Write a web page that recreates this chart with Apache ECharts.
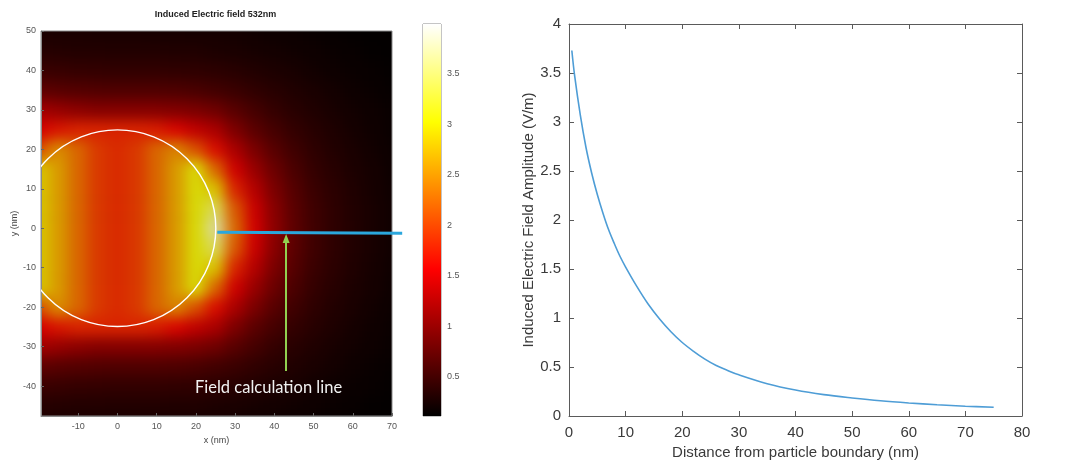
<!DOCTYPE html>
<html>
<head>
<meta charset="utf-8">
<script src="https://cdn.jsdelivr.net/npm/echarts@6/dist/echarts.min.js"></script>
<style>
html,body{margin:0;padding:0;background:#ffffff;}
#wrap{position:relative;width:1078px;height:467px;overflow:hidden;}
#heatClip{position:absolute;left:41px;top:31px;width:351px;height:385px;overflow:hidden;background:#000;}
#heat{position:absolute;left:-30px;top:-30px;width:411px;height:445px;filter:blur(7px) brightness(0.85);}
#main{position:absolute;left:0;top:0;width:1078px;height:467px;}
</style>
</head>
<body>
<div id="wrap">
  <div id="heatClip"><div id="heat"></div></div>
  <div id="main"></div>
</div>
<script>
// ---------------- data ----------------
const X_RANGE = [-19.5, 70];
const Y_RANGE = [-47.6, 50];
const HEAT_X_TICKS = [-10, 0, 10, 20, 30, 40, 50, 60, 70];
const HEAT_Y_TICKS = [-40, -30, -20, -10, 0, 10, 20, 30, 40, 50];

// field map sampled every 5 nm (columns x = -20..70, rows y = 0..50; map is symmetric in y)
const HEAT_X = [-20, -15, -10, -5, 0, 5, 10, 15, 20, 25, 30, 35, 40, 45, 50, 55, 60, 65, 70];
const HEAT_Y_UPPER = [0, 5, 10, 15, 20, 25, 30, 35, 40, 45, 50];
const HEAT_ROWS = [
  [2.9, 2.6, 2.25, 1.95, 1.85, 1.95, 2.25, 2.6, 3.05, 3.7, 2.27, 1.52, 1.06, 0.74, 0.54, 0.42, 0.34, 0.27, 0.22],
  [2.9, 2.6, 2.25, 1.95, 1.85, 1.95, 2.25, 2.6, 3.05, 3.4, 2.15, 1.47, 1.03, 0.72, 0.53, 0.42, 0.335, 0.27, 0.22],
  [2.9, 2.6, 2.25, 1.95, 1.85, 1.95, 2.25, 2.6, 3.05, 2.85, 1.8, 1.32, 0.94, 0.68, 0.5, 0.4, 0.32, 0.26, 0.21],
  [2.9, 2.6, 2.25, 1.95, 1.85, 1.95, 2.25, 2.6, 3.05, 2.25, 1.5, 1.13, 0.83, 0.61, 0.46, 0.37, 0.3, 0.25, 0.2],
  [2.1, 2.5, 2.25, 1.95, 1.85, 1.95, 2.25, 2.45, 2.1, 1.65, 1.25, 0.93, 0.7, 0.53, 0.42, 0.34, 0.28, 0.23, 0.19],
  [1.55, 1.7, 1.8, 1.8, 1.8, 1.8, 1.75, 1.6, 1.4, 1.25, 0.95, 0.72, 0.57, 0.45, 0.37, 0.31, 0.25, 0.21, 0.18],
  [1.2, 1.12, 1.05, 1.0, 1.0, 1.0, 1.0, 0.98, 0.93, 0.85, 0.7, 0.57, 0.46, 0.38, 0.32, 0.27, 0.23, 0.2, 0.17],
  [0.75, 0.7, 0.67, 0.65, 0.64, 0.64, 0.64, 0.63, 0.6, 0.55, 0.5, 0.43, 0.37, 0.32, 0.28, 0.24, 0.2, 0.18, 0.15],
  [0.5, 0.48, 0.46, 0.45, 0.44, 0.44, 0.44, 0.43, 0.42, 0.4, 0.37, 0.33, 0.3, 0.27, 0.23, 0.2, 0.18, 0.16, 0.14],
  [0.36, 0.35, 0.34, 0.34, 0.33, 0.33, 0.33, 0.32, 0.32, 0.3, 0.28, 0.26, 0.24, 0.22, 0.2, 0.18, 0.16, 0.14, 0.13],
  [0.29, 0.28, 0.28, 0.27, 0.27, 0.27, 0.26, 0.26, 0.25, 0.25, 0.24, 0.22, 0.2, 0.19, 0.17, 0.15, 0.14, 0.13, 0.12]
];

const CB_RANGE = [0.11, 3.99];
const CB_TICKS = [0.5, 1, 1.5, 2, 2.5, 3, 3.5];
const HOT = ['#000000', '#550000', '#aa0000', '#ff0000', '#ff5500', '#ffaa00', '#ffff00', '#ffff80', '#ffffff'];

const PARTICLE = [[0, 0, 25]];            // centre x, centre y, radius (nm)
const CALC_LINE_X = [25.45, 72.6];
const CALC_LINE_Y = [-1.0, -1.3];
const ARROW_X = [43, 43];
const ARROW_Y = [-36.2, -2.6];

const DIST = [0.5, 1, 2, 3, 4, 5, 6, 7, 8, 9, 10, 12, 14, 16, 18, 20, 22, 24, 26, 28, 30, 35, 40, 45, 50, 55, 60, 65, 70, 75];
const AMP = [3.73, 3.47, 3.07, 2.74, 2.48, 2.26, 2.07, 1.90, 1.76, 1.63, 1.52, 1.32, 1.14, 0.99, 0.86, 0.75, 0.66, 0.58, 0.515, 0.465, 0.42, 0.33, 0.265, 0.218, 0.184, 0.155, 0.133, 0.115, 0.10, 0.089];

// ---------------- layout ----------------
const PLOT = {left: 41, top: 31, width: 351, height: 385};
const CB = {left: 423, top: 24, width: 18, height: 392};
const LINEPLOT = {left: 569, top: 24, width: 453, height: 392};
const FONT = '"Liberation Sans", Arial, Helvetica, sans-serif';

// ---------------- heat map layer ----------------
const M = 30;
const kx = PLOT.width / (X_RANGE[1] - X_RANGE[0]);
const ky = PLOT.height / (Y_RANGE[1] - Y_RANGE[0]);
const yFull = HEAT_Y_UPPER.slice(1).reverse().map(v => -v).concat(HEAT_Y_UPPER);
const step = HEAT_X[1] - HEAT_X[0];
const hx0 = HEAT_X[0] - step / 2, hx1 = HEAT_X[HEAT_X.length - 1] + step / 2;
const hy0 = yFull[0] - step / 2, hy1 = yFull[yFull.length - 1] + step / 2;
const heatData = [];
yFull.forEach((yv, yi) => {
  const row = HEAT_ROWS[HEAT_Y_UPPER.indexOf(Math.abs(yv))];
  HEAT_X.forEach((xv, xi) => heatData.push([xi, yi, row[xi]]));
});
const heat = echarts.init(document.getElementById('heat'), null, {renderer: 'canvas'});
heat.setOption({
  animation: false,
  grid: {
    left: M + (hx0 - X_RANGE[0]) * kx,
    top: M + (Y_RANGE[1] - hy1) * ky,
    width: (hx1 - hx0) * kx,
    height: (hy1 - hy0) * ky
  },
  xAxis: {type: 'category', data: HEAT_X.map(String), show: false},
  yAxis: {type: 'category', data: yFull.map(String), show: false},
  visualMap: {show: false, type: 'continuous', min: CB_RANGE[0], max: CB_RANGE[1], dimension: 2, inRange: {color: HOT}},
  series: [{type: 'heatmap', data: heatData, progressive: 0, silent: true, itemStyle: {borderWidth: 0}}]
});

// ---------------- main chart ----------------
const chart = echarts.init(document.getElementById('main'), null, {renderer: 'canvas'});
const cbGradient = new echarts.graphic.LinearGradient(0, 0, 0, 1,
  HOT.map((c, i) => ({offset: 1 - i / (HOT.length - 1), color: c})).reverse());

const lineAxisCommon = {
  type: 'value', gridIndex: 2,
  axisLine: {show: true, onZero: false, lineStyle: {color: '#5a5a5a', width: 1}},
  axisTick: {show: true, inside: true, length: 5, lineStyle: {color: '#5a5a5a'}},
  splitLine: {show: false}
};

chart.setOption({
  animation: false,
  textStyle: {fontFamily: FONT},
  grid: [
    Object.assign({show: true, borderColor: '#8a8a8a', borderWidth: 1, backgroundColor: 'transparent'}, PLOT),
    Object.assign({show: true, borderColor: '#8a8a8a', borderWidth: 1, backgroundColor: 'transparent'}, CB),
    Object.assign({show: false}, LINEPLOT)
  ],
  xAxis: [
    {
      type: 'value', gridIndex: 0, min: X_RANGE[0], max: X_RANGE[1],
      axisLine: {show: true, onZero: false, lineStyle: {color: '#8a8a8a'}},
      axisTick: {show: true, inside: true, length: 3, customValues: HEAT_X_TICKS, lineStyle: {color: '#666'}},
      axisLabel: {customValues: HEAT_X_TICKS, fontSize: 9, color: '#555', margin: 6, fontFamily: FONT},
      splitLine: {show: false},
      name: 'x (nm)', nameLocation: 'middle', nameGap: 19,
      nameTextStyle: {fontSize: 9, color: '#444', fontFamily: FONT}
    },
    {type: 'category', gridIndex: 1, data: ['cb'], show: false},
    Object.assign({}, lineAxisCommon, {
      min: 0, max: 80, interval: 10, position: 'bottom',
      axisLabel: {fontSize: 15, color: '#3a3a3a', margin: 9, fontFamily: FONT},
      name: 'Distance from particle boundary (nm)', nameLocation: 'middle', nameGap: 23,
      nameTextStyle: {fontSize: 15, color: '#3a3a3a', fontFamily: FONT}
    }),
    Object.assign({}, lineAxisCommon, {
      min: 0, max: 80, interval: 10, position: 'top', axisLabel: {show: false}
    })
  ],
  yAxis: [
    {
      type: 'value', gridIndex: 0, min: Y_RANGE[0], max: Y_RANGE[1],
      axisLine: {show: true, onZero: false, lineStyle: {color: '#8a8a8a'}},
      axisTick: {show: true, inside: true, length: 3, customValues: HEAT_Y_TICKS, lineStyle: {color: '#666'}},
      axisLabel: {customValues: HEAT_Y_TICKS, fontSize: 9, color: '#555', margin: 5, fontFamily: FONT},
      splitLine: {show: false},
      name: 'y (nm)', nameLocation: 'middle', nameGap: 21, nameRotate: 90,
      nameTextStyle: {fontSize: 9, color: '#444', fontFamily: FONT}
    },
    {
      type: 'value', gridIndex: 1, min: CB_RANGE[0], max: CB_RANGE[1], position: 'right',
      axisLine: {show: false},
      axisTick: {show: true, inside: true, length: 3, customValues: CB_TICKS, lineStyle: {color: '#777'}},
      axisLabel: {customValues: CB_TICKS, fontSize: 9, color: '#555', margin: 6, fontFamily: FONT},
      splitLine: {show: false}
    },
    Object.assign({}, lineAxisCommon, {
      min: 0, max: 4, interval: 0.5, position: 'left',
      axisLabel: {fontSize: 15, color: '#3a3a3a', margin: 8, fontFamily: FONT},
      name: 'Induced Electric Field Amplitude (V/m)', nameLocation: 'middle', nameGap: 30, nameRotate: 90,
      nameTextStyle: {fontSize: 15, color: '#3a3a3a', fontFamily: FONT}
    }),
    Object.assign({}, lineAxisCommon, {
      min: 0, max: 4, interval: 0.5, position: 'right', axisLabel: {show: false}
    })
  ],
  graphic: [
    {
      id: 'title', type: 'text', x: PLOT.left + PLOT.width / 2 - 1, y: 15, z: 100,
      style: {text: 'Induced Electric field 532nm', font: 'bold 9px ' + FONT, fill: '#222', align: 'center', verticalAlign: 'middle'}
    },
    {
      id: 'note', type: 'text', x: 195, y: 387.5, z: 100,
      style: {text: 'Field calculation line', font: '16.5px Lato, "Open Sans", sans-serif', fill: '#f2f2f2', align: 'left', verticalAlign: 'middle'}
    }
  ],
  series: [
    {
      type: 'custom', xAxisIndex: 0, yAxisIndex: 0, clip: true, silent: true, z: 3,
      data: PARTICLE, encode: {x: 0, y: 1},
      renderItem: function (params, api) {
        const c = api.coord([api.value(0), api.value(1)]);
        const s = api.size([api.value(2), api.value(2)]);
        return {
          type: 'circle',
          shape: {cx: c[0], cy: c[1], r: (s[0] + s[1]) / 2},
          style: {fill: 'none', stroke: '#ffffff', lineWidth: 1.4}
        };
      }
    },
    {
      type: 'line', xAxisIndex: 0, yAxisIndex: 0, silent: true, z: 5,
      data: [[ARROW_X[0], ARROW_Y[0]]], symbol: 'none', showSymbol: false, lineStyle: {width: 0},
      markLine: {
        silent: true, animation: false, symbol: ['none', 'triangle'], symbolSize: [7, 9],
        label: {show: false},
        lineStyle: {color: '#92d050', width: 2, type: 'solid'},
        data: [[{coord: [ARROW_X[0], ARROW_Y[0]]}, {coord: [ARROW_X[1], ARROW_Y[1]]}]]
      }
    },
    {
      type: 'bar', xAxisIndex: 1, yAxisIndex: 1, stack: 'cb', silent: true, barWidth: '100%',
      data: [CB_RANGE[0]], itemStyle: {color: 'rgba(0,0,0,0)'}
    },
    {
      type: 'bar', xAxisIndex: 1, yAxisIndex: 1, stack: 'cb', silent: true, barWidth: '100%',
      data: [CB_RANGE[1] - CB_RANGE[0]], itemStyle: {color: cbGradient}
    },
    {
      type: 'line', xAxisIndex: 2, yAxisIndex: 2, silent: true,
      data: DIST.map((d, i) => [d, AMP[i]]),
      smooth: 0.35, symbol: 'none',
      lineStyle: {color: '#4e9dd6', width: 1.6}
    }
  ]
});

// the field-calculation line runs past the right edge of the map: place it through the axis scales
const calcPts = CALC_LINE_X.map((x, i) => chart.convertToPixel({xAxisIndex: 0, yAxisIndex: 0}, [x, CALC_LINE_Y[i]]));
chart.setOption({
  graphic: [{
    id: 'calcLine', type: 'polyline', z: 90, silent: true,
    shape: {points: calcPts},
    style: {stroke: '#2ba7dd', lineWidth: 3, fill: null}
  }]
});
</script>
</body>
</html>
